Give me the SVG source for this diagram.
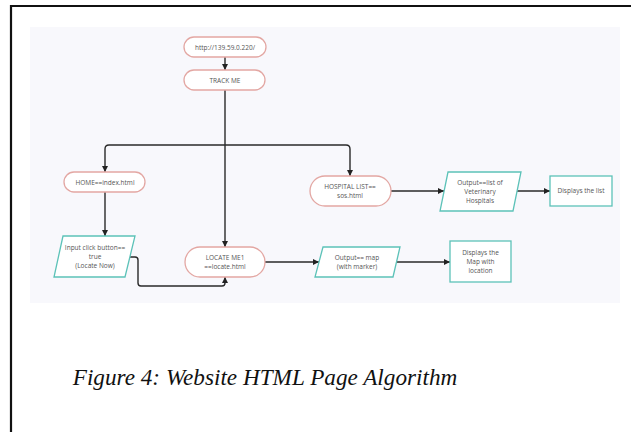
<svg xmlns="http://www.w3.org/2000/svg" width="631" height="432" viewBox="0 0 631 432">
  <defs>
    <marker id="arrow" viewBox="0 0 6 6" refX="6" refY="3" markerWidth="6" markerHeight="6" markerUnits="userSpaceOnUse" orient="auto">
      <path d="M0,0 L6,3 L0,6 z" fill="#222"/>
    </marker>
    <style>
      .pill { fill: #ffffff; stroke: #e3a7a3; stroke-width: 1.3; }
      .io { fill: #ffffff; stroke: #5cc2b8; stroke-width: 1.3; }
      .lbl { font-family: "Open Sans", "Noto Sans", sans-serif; font-size: 6.5px; fill: #555; text-anchor: middle; }
      .edge { fill: none; stroke: #2a2a2a; stroke-width: 1.4; }
      .cap { font-family: "Liberation Serif", serif; font-style: italic; font-size: 23.2px; fill: #111; text-anchor: middle; }
    </style>
  </defs>

  <!-- page background and frame -->
  <rect x="0" y="0" width="631" height="432" fill="#ffffff"/>
  <path d="M11,432 V6 H631" fill="none" stroke="#111" stroke-width="2.2"/>

  <!-- flowchart canvas -->
  <rect x="30" y="27" width="590" height="276" fill="#f8f8fc"/>

  <!-- connectors -->
  <g id="connectors">
    <path class="edge" d="M225,57 V70" marker-end="url(#arrow)"/>
    <path class="edge" d="M225,90 V247" marker-end="url(#arrow)"/>
    <path class="edge" d="M225,145 H109 Q105,145 105,149 V172" marker-end="url(#arrow)"/>
    <path class="edge" d="M225,145 H346 Q350,145 350,149 V176" marker-end="url(#arrow)"/>
    <path class="edge" d="M105,192 V236" marker-end="url(#arrow)"/>
    <path class="edge" d="M130,257 H135 Q138,257 138,260 V283 Q138,286 141,286 H222 Q225,286 225,283 V277" marker-end="url(#arrow)"/>
    <path class="edge" d="M391,191 H444" marker-end="url(#arrow)"/>
    <path class="edge" d="M516,191 H550" marker-end="url(#arrow)"/>
    <path class="edge" d="M265,262 H319" marker-end="url(#arrow)"/>
    <path class="edge" d="M397,262 H450" marker-end="url(#arrow)"/>
  </g>

  <!-- nodes -->
  <g id="node-url">
    <rect class="pill" x="184" y="37" width="82" height="20" rx="10"/>
    <text class="lbl" x="225" y="49.5">http://139.59.0.220/</text>
  </g>
  <g id="node-track">
    <rect class="pill" x="184" y="70" width="81" height="20" rx="10"/>
    <text class="lbl" x="225" y="82.5">TRACK ME</text>
  </g>
  <g id="node-home">
    <rect class="pill" x="64" y="172" width="81" height="20" rx="10"/>
    <text class="lbl" x="105" y="184.5">HOME==index.html</text>
  </g>
  <g id="node-hospital">
    <rect class="pill" x="310" y="176" width="81" height="30" rx="15"/>
    <text class="lbl" x="350" y="189">HOSPITAL LIST==</text>
    <text class="lbl" x="350" y="198">sos.html</text>
  </g>
  <g id="node-input">
    <polygon class="io" points="63,236 135,236 125,277 54,277"/>
    <text class="lbl" x="95" y="250">Input click button==</text>
    <text class="lbl" x="95" y="259">true</text>
    <text class="lbl" x="95" y="268">(Locate Now)</text>
  </g>
  <g id="node-locate">
    <rect class="pill" x="185" y="247" width="80" height="30" rx="15"/>
    <text class="lbl" x="225" y="260">LOCATE ME1</text>
    <text class="lbl" x="225" y="269">==locate.html</text>
  </g>
  <g id="node-output-list">
    <polygon class="io" points="448,172 521,172 513,211 440,211"/>
    <text class="lbl" x="480" y="185">Output==list of</text>
    <text class="lbl" x="480" y="194">Veterinary</text>
    <text class="lbl" x="480" y="203">Hospitals</text>
  </g>
  <g id="node-display-list">
    <rect class="io" x="550" y="176" width="62" height="30"/>
    <text class="lbl" x="581" y="193">Displays the list</text>
  </g>
  <g id="node-output-map">
    <polygon class="io" points="323,247 400,247 393,277 315,277"/>
    <text class="lbl" x="357" y="260">Output== map</text>
    <text class="lbl" x="357" y="269">(with marker)</text>
  </g>
  <g id="node-display-map">
    <rect class="io" x="450" y="241" width="61" height="41"/>
    <text class="lbl" x="480.5" y="255">Displays the</text>
    <text class="lbl" x="480.5" y="264">Map with</text>
    <text class="lbl" x="480.5" y="273">location</text>
  </g>

  <!-- caption -->
  <text class="cap" x="265" y="385">Figure 4: Website HTML Page Algorithm</text>
</svg>
